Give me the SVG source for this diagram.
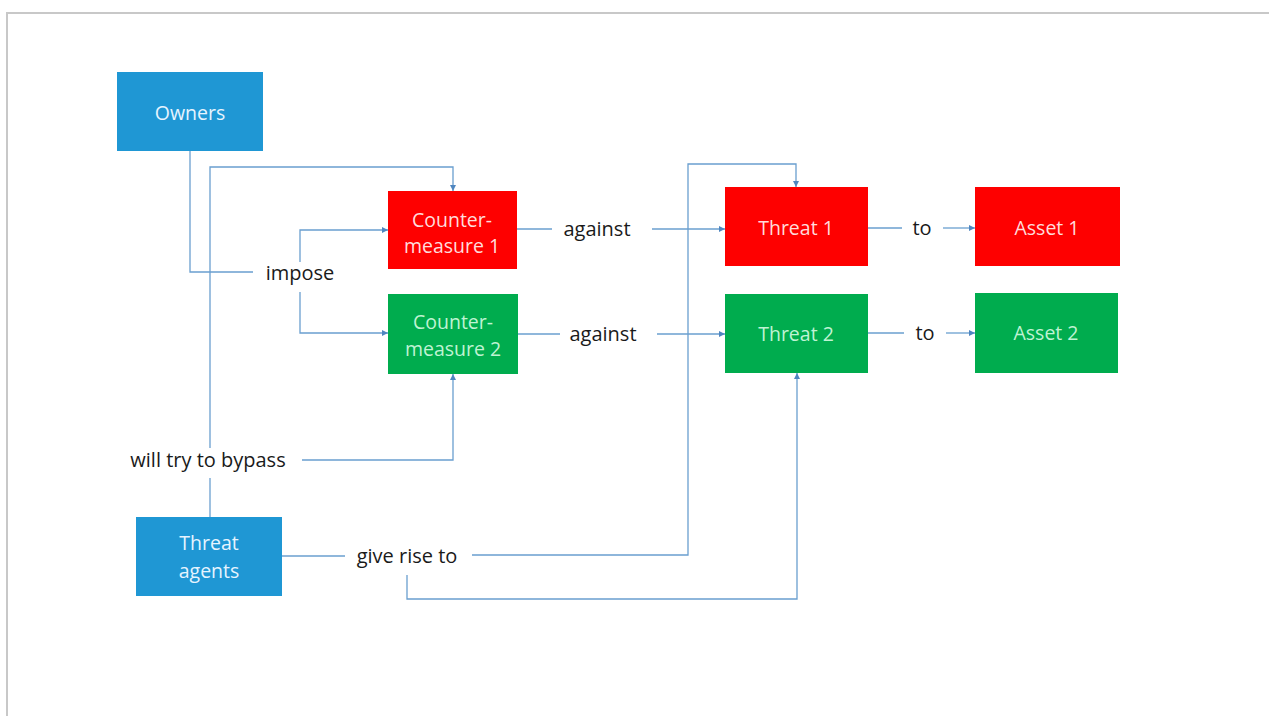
<svg xmlns="http://www.w3.org/2000/svg" width="1269" height="716" viewBox="0 0 1269 716">
<style>
.frame{fill:none;stroke:#c8c8c8;stroke-width:2}
.blue{fill:#1f97d4}
.red{fill:#fe0000}
.green{fill:#00ac4e}
.bt{font-family:"Open Sans","Liberation Sans",sans-serif;font-size:19.5px;text-anchor:middle}
.tb{fill:#e6f4ff}
.tr{fill:#ffdcdc}
.tg{fill:#bff3d3}
.lbl{font-family:"Open Sans","Liberation Sans",sans-serif;font-size:20px;fill:#1a1a1a;text-anchor:middle}
.c{fill:none;stroke:#6a9fcf;stroke-width:1.3}
</style>
<defs>
<marker id="ah" viewBox="0 0 10 10" refX="10" refY="5" markerWidth="6" markerHeight="6" markerUnits="userSpaceOnUse" orient="auto">
<path d="M0,0 L10,5 L0,10 Z" fill="#4f86c0"/>
</marker>
</defs>
<rect width="1269" height="716" fill="#ffffff"/>
<path class="frame" d="M7,716 V13 H1269"/>

<g id="connectors">
<path class="c" d="M190,151 V272 H253"/>
<path class="c" d="M300,262 V230 H388" marker-end="url(#ah)"/>
<path class="c" d="M300,292 V333 H388" marker-end="url(#ah)"/>
<path class="c" d="M210,448 V167 H453 V191" marker-end="url(#ah)"/>
<path class="c" d="M302,460 H453 V374" marker-end="url(#ah)"/>
<path class="c" d="M210,517 V478"/>
<path class="c" d="M517,229 H552"/>
<path class="c" d="M652,229 H725" marker-end="url(#ah)"/>
<path class="c" d="M518,334 H560"/>
<path class="c" d="M657,334 H725" marker-end="url(#ah)"/>
<path class="c" d="M868,228 H902"/>
<path class="c" d="M943,228 H975" marker-end="url(#ah)"/>
<path class="c" d="M868,333 H904"/>
<path class="c" d="M946,333 H975" marker-end="url(#ah)"/>
<path class="c" d="M282,556 H345"/>
<path class="c" d="M472,555 H688 V164 H796 V187" marker-end="url(#ah)"/>
<path class="c" d="M407,575 V599 H797 V373" marker-end="url(#ah)"/>
</g>

<g id="labels">
<text class="lbl" x="300" y="280">impose</text>
<text class="lbl" x="208" y="467">will try to bypass</text>
<text class="lbl" x="407" y="563">give rise to</text>
<text class="lbl" x="597" y="236">against</text>
<text class="lbl" x="603" y="341">against</text>
<text class="lbl" x="922" y="235">to</text>
<text class="lbl" x="925" y="340">to</text>
</g>

<g id="owners">
<rect class="blue" x="117" y="72" width="146" height="79"/>
<text class="bt tb" x="190" y="120">Owners</text>
</g>
<g id="threat-agents">
<rect class="blue" x="136" y="517" width="146" height="79"/>
<text class="bt tb" x="209" y="550">Threat</text>
<text class="bt tb" x="209" y="578">agents</text>
</g>
<g id="countermeasure-1">
<rect class="red" x="388" y="191" width="129" height="78"/>
<text class="bt tr" x="452" y="227">Counter-</text>
<text class="bt tr" x="452" y="253">measure 1</text>
</g>
<g id="countermeasure-2">
<rect class="green" x="388" y="294" width="130" height="80"/>
<text class="bt tg" x="453" y="329">Counter-</text>
<text class="bt tg" x="453" y="356">measure 2</text>
</g>
<g id="threat-1">
<rect class="red" x="725" y="187" width="143" height="79"/>
<text class="bt tr" x="796" y="235">Threat 1</text>
</g>
<g id="threat-2">
<rect class="green" x="725" y="294" width="143" height="79"/>
<text class="bt tg" x="796" y="341">Threat 2</text>
</g>
<g id="asset-1">
<rect class="red" x="975" y="187" width="145" height="79"/>
<text class="bt tr" x="1047" y="235">Asset 1</text>
</g>
<g id="asset-2">
<rect class="green" x="975" y="293" width="143" height="80"/>
<text class="bt tg" x="1046" y="340">Asset 2</text>
</g>
</svg>
